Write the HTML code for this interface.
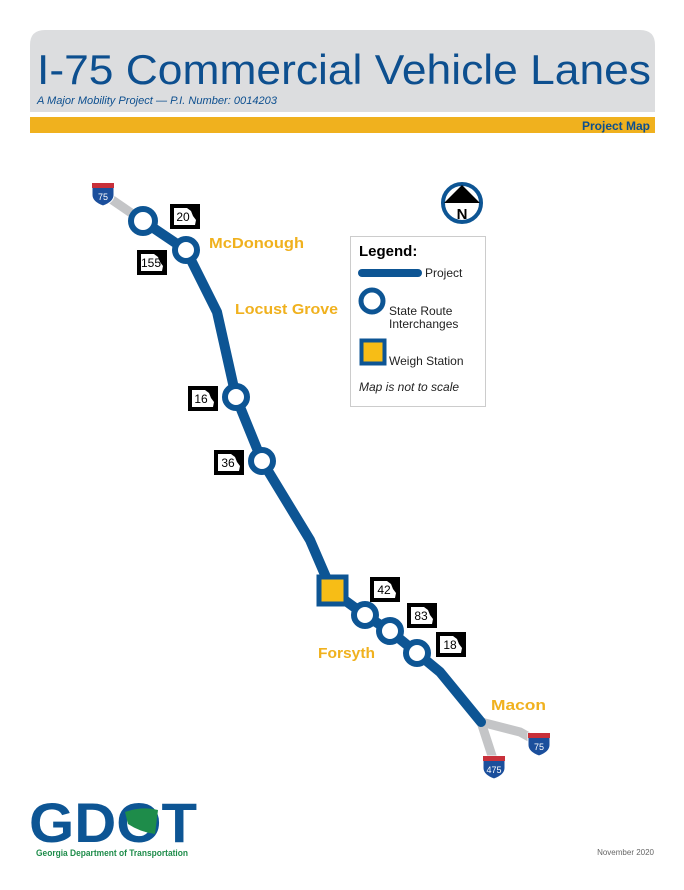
<!DOCTYPE html>
<html><head><meta charset="utf-8"><style>
body{margin:0;background:#fff;width:684px;height:885px;overflow:hidden;font-family:"Liberation Sans",sans-serif}
</style></head><body>
<svg width="684" height="885" xmlns="http://www.w3.org/2000/svg" font-family="Liberation Sans, sans-serif">
<defs>
<g id="sr"><rect x="0" y="0" width="30" height="25" fill="#000"/><path d="M4 4 H17 L21 7 L23 12 L26 16 L25 21 H4 Z" fill="#fff"/></g>
<g id="ish"><path d="M-11 -9 H11 V3 Q11 10 0 14 Q-11 10 -11 3 Z" fill="#1b4f9c" stroke="#fff" stroke-width="1"/><rect x="-11" y="-9" width="22" height="5" fill="#c8303a"/></g>
</defs>
<!-- header -->
<path d="M30 45 Q30 30 45 30 H640 Q655 30 655 45 V112 H30 Z" fill="#dcdddf"/>
<text x="37" y="84" font-size="42" fill="#0d4f8f" textLength="614" lengthAdjust="spacingAndGlyphs">I-75 Commercial Vehicle Lanes</text>
<text x="37" y="104" font-size="11" font-style="italic" fill="#0d4f8f" textLength="240" lengthAdjust="spacingAndGlyphs">A Major Mobility Project  —  P.I. Number: 0014203</text>
<rect x="30" y="117" width="625" height="16" fill="#f0b11e"/>
<text x="650" y="130" font-size="12" font-weight="bold" fill="#0d4f8f" text-anchor="end">Project Map</text>
<!-- gray ends -->
<g stroke="#c4c5c7" stroke-width="9" fill="none" stroke-linecap="round">
<line x1="105" y1="195" x2="143" y2="221"/>
<polyline points="481,722 520,732 538,742"/>
<polyline points="481,722 494,762"/>
</g>
<!-- route -->
<polyline points="143,221 186,250 217,312 236,397 262,461 310,540 332,591 365,615 390,631 417,653 440,672 481,722" fill="none" stroke="#0d5594" stroke-width="10" stroke-linejoin="round" stroke-linecap="round"/>
<g fill="#fff" stroke="#0d5594" stroke-width="6">
<circle cx="143" cy="221" r="12"/><circle cx="186" cy="250" r="11"/>
<circle cx="236" cy="397" r="11"/><circle cx="262" cy="461" r="11"/>
<circle cx="365" cy="615" r="11"/><circle cx="390" cy="631" r="11"/><circle cx="417" cy="653" r="11"/>
<rect x="319" y="577" width="27" height="27" fill="#f7bd16" stroke-width="5"/>
</g>
<!-- shields -->
<g font-size="12" text-anchor="middle" fill="#000">
<use href="#sr" x="170" y="204"/><text x="183" y="221">20</text>
<use href="#sr" x="137" y="250"/><text x="151" y="267">155</text>
<use href="#sr" x="188" y="386"/><text x="201" y="403">16</text>
<use href="#sr" x="214" y="450"/><text x="228" y="467">36</text>
<use href="#sr" x="370" y="577"/><text x="384" y="594">42</text>
<use href="#sr" x="407" y="603"/><text x="421" y="620">83</text>
<use href="#sr" x="436" y="632"/><text x="450" y="649">18</text>
</g>
<g font-size="9" fill="#fff" text-anchor="middle">
<use href="#ish" x="103" y="192"/><text x="103" y="200">75</text>
<use href="#ish" x="539" y="742"/><text x="539" y="750">75</text>
<use href="#ish" x="494" y="765"/><text x="494" y="773">475</text>
</g>
<!-- city labels -->
<g font-size="15" font-weight="bold" fill="#f0b11e" lengthAdjust="spacingAndGlyphs">
<text x="209" y="248" textLength="95" lengthAdjust="spacingAndGlyphs">McDonough</text>
<text x="235" y="314" textLength="103" lengthAdjust="spacingAndGlyphs">Locust Grove</text>
<text x="318" y="658" textLength="57" lengthAdjust="spacingAndGlyphs">Forsyth</text>
<text x="491" y="710" textLength="55" lengthAdjust="spacingAndGlyphs">Macon</text>
</g>
<!-- compass -->
<circle cx="462" cy="203" r="19" fill="#fff" stroke="#0d5594" stroke-width="4"/>
<path d="M444 203 L462 185 L480 203 Z" fill="#000"/>
<text x="462" y="219" font-size="15" font-weight="bold" text-anchor="middle">N</text>
<!-- legend -->
<rect x="350.5" y="236.5" width="135" height="170" fill="#fff" stroke="#ccc"/>
<text x="359" y="256" font-size="15" font-weight="bold">Legend:</text>
<line x1="362" y1="273" x2="418" y2="273" stroke="#0d5594" stroke-width="8" stroke-linecap="round"/>
<text x="425" y="277" font-size="12" fill="#222">Project</text>
<circle cx="372" cy="301" r="11" fill="#fff" stroke="#0d5594" stroke-width="5"/>
<text x="389" y="315" font-size="12" fill="#222">State Route</text>
<text x="389" y="328" font-size="12" fill="#222">Interchanges</text>
<rect x="361.5" y="340.5" width="23" height="23" fill="#f7bd16" stroke="#0d5594" stroke-width="4"/>
<text x="389" y="365" font-size="12" fill="#222">Weigh Station</text>
<text x="359" y="391" font-size="12" font-style="italic" fill="#222">Map is not to scale</text>
<!-- GDOT -->
<text x="29" y="842" font-size="56" font-weight="bold" fill="#0d5594" textLength="168" lengthAdjust="spacingAndGlyphs">GDOT</text>
<path d="M125 812 Q142 806 158 810 L155 834 Q140 832 128 824 Z" fill="#1e8c4a"/>
<text x="36" y="856" font-size="9" font-weight="bold" fill="#1e8c4a" textLength="152" lengthAdjust="spacingAndGlyphs">Georgia Department of Transportation</text>
<text x="654" y="855" font-size="8" fill="#666" text-anchor="end">November 2020</text>
</svg>
</body></html>
